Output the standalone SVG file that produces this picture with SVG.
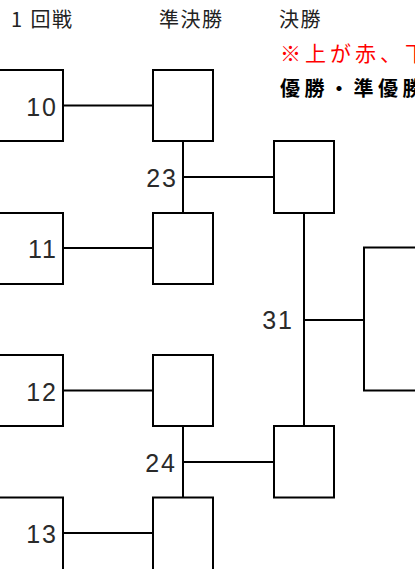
<svg xmlns="http://www.w3.org/2000/svg" width="415" height="569" viewBox="0 0 415 569">
<style>
.b{fill:#fff;stroke:#000;stroke-width:2}
.c line{stroke:#000;stroke-width:2}
.h{font-family:"Noto Sans CJK JP","Liberation Sans",sans-serif;font-size:20px;letter-spacing:1.5px;fill:#222}
.n{font-family:"Liberation Sans","DejaVu Sans",sans-serif;font-size:25px;letter-spacing:2px;fill:#2a2a2a;text-anchor:end}
.r{font-family:"Noto Sans CJK JP",sans-serif;font-size:21px;letter-spacing:4px;fill:#f00}
.k{font-family:"Noto Sans CJK JP",sans-serif;font-size:20px;letter-spacing:4.5px;font-weight:bold;fill:#000}
</style>
<rect width="415" height="569" fill="#fff"/>
<text class="h" x="11" y="27">1<tspan dx="7">回戦</tspan></text>
<text class="h" x="159" y="27">準決勝</text>
<text class="h" x="279" y="27">決勝</text>
<text class="r" x="280" y="61">※上が赤、下</text>
<text class="k" x="280" y="96">優勝・準優勝</text>
<g id="connectors" class="c">
<line x1="63" y1="105.5" x2="153" y2="105.5"/>
<line x1="63" y1="248" x2="153" y2="248"/>
<line x1="63" y1="390.5" x2="153" y2="390.5"/>
<line x1="63" y1="533" x2="153" y2="533"/>
<line x1="183" y1="141" x2="183" y2="213"/>
<line x1="183" y1="177" x2="274" y2="177"/>
<line x1="183" y1="426" x2="183" y2="497.5"/>
<line x1="183" y1="462" x2="274" y2="462"/>
<line x1="304" y1="213" x2="304" y2="426"/>
<line x1="304" y1="320" x2="364" y2="320"/>
</g>
<g id="n10"><rect class="b" x="-10" y="70" width="73" height="71"/><text class="n" x="58" y="116">10</text></g>
<g id="n11"><rect class="b" x="-10" y="213" width="73" height="71"/><text class="n" x="58" y="258">11</text></g>
<g id="n12"><rect class="b" x="-10" y="355" width="73" height="71"/><text class="n" x="58" y="401">12</text></g>
<g id="n13"><rect class="b" x="-10" y="497.5" width="73" height="80"/><text class="n" x="58" y="543">13</text></g>
<g id="s1"><rect class="b" x="153" y="70" width="60" height="71"/></g>
<g id="s2"><rect class="b" x="153" y="213" width="60" height="71"/></g>
<g id="s3"><rect class="b" x="153" y="355" width="60" height="71"/></g>
<g id="s4"><rect class="b" x="153" y="497.5" width="60" height="80"/></g>
<g id="f1"><rect class="b" x="274" y="141" width="60" height="72"/></g>
<g id="f2"><rect class="b" x="274" y="426" width="60" height="71.5"/></g>
<g id="w"><rect class="b" x="364" y="247.5" width="70" height="143"/></g>
<g id="l23"><text class="n" x="178" y="187">23</text></g>
<g id="l24"><text class="n" x="177" y="472">24</text></g>
<g id="l31"><text class="n" x="294" y="329">31</text></g>
</svg>
